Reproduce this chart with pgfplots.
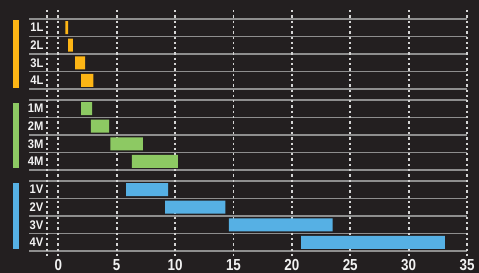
\documentclass[border=0pt]{standalone}
\usepackage{pgfplots}
\pgfplotsset{compat=1.18}
\usepackage{pgfplotstable}
\usepackage{fontspec}
\setmainfont{Liberation Sans}[FakeStretch=0.9]
\newfontfamily\tickfont{Liberation Sans}[FakeStretch=0.84]
\definecolor{bg}{HTML}{231F20}
\definecolor{cL}{HTML}{FDB515}
\definecolor{cM}{HTML}{8DC963}
\definecolor{cV}{HTML}{56B0E4}
\definecolor{hline}{HTML}{8E8E8E}
\definecolor{dotc}{HTML}{D5D5D5}
\definecolor{txt}{HTML}{F2F2F2}

\pgfplotstableread{
y    start lenL lenM lenV
0.5  0.6   0.25 0    0
1.5  0.85  0.4  0    0
2.5  1.45  0.85 0    0
3.5  1.95  1.05 0    0
5.1  1.95  0    0.95 0
6.1  2.8   0    1.55 0
7.1  4.45  0    2.8  0
8.1  6.3   0    3.95 0
9.7  5.8   0    0    3.6
10.7 9.15  0    0    5.15
11.7 14.6  0    0    8.9
12.7 20.8  0    0    12.3
}\bars

\begin{document}
\begin{tikzpicture}
\fill[bg] (0,0) rectangle (479bp,273bp);
\useasboundingbox (0,0) rectangle (479bp,273bp);
\begin{axis}[
  at={(29.1bp,17bp)}, anchor=south west,
  scale only axis, width=437.9bp, height=246bp,
  xmin=-2.5, xmax=35, ymin=-0.5, ymax=13.47, y dir=reverse,
  clip=false,
  axis line style={draw=none},
  major tick length=0,
  xbar stacked, bar width=0.74,
  xtick={0,5,...,35},
  x tick label style={font=\tickfont\bfseries\fontsize{16}{16}\selectfont, text=txt},
  /pgf/number format/assume math mode=true,
  extra x ticks={-1,0,5,10,15,20,25,30,35},
  extra x tick labels={},
  extra x tick style={grid=major, major grid style={dotc, line width=1.8bp, dash pattern=on 2.3bp off 3bp}},
  ytick={0,1,2,3,4,4.6,5.6,6.6,7.6,8.6,9.2,10.2,11.2,12.2,13.2},
  yticklabels={},
  ymajorgrids,
  major grid style={hline, line width=1.6bp},
  extra y ticks={0.5,1.5,2.5,3.5,5.1,6.1,7.1,8.1,9.7,10.7,11.7,12.7},
  extra y tick labels={1L,2L,3L,4L,1M,2M,3M,4M,1V,2V,3V,4V},
  extra y tick style={grid=none},
  y tick label style={font=\bfseries\fontsize{12.5}{12.5}\selectfont, text=txt, anchor=east, xshift=17.8bp},
]
\addplot[draw=none, fill=none] table[x=start, y=y]{\bars};
\addplot[draw=none, fill=cL] table[x=lenL, y=y]{\bars};
\addplot[draw=none, fill=cM] table[x=lenM, y=y]{\bars};
\addplot[draw=none, fill=cV] table[x=lenV, y=y]{\bars};
\fill[cL] (axis cs:-3.85,0.06) rectangle (axis cs:-3.39,3.92);
\fill[cM] (axis cs:-3.85,4.77) rectangle (axis cs:-3.39,8.45);
\fill[cV] (axis cs:-3.85,9.32) rectangle (axis cs:-3.39,13.05);
\end{axis}
\end{tikzpicture}
\end{document}
